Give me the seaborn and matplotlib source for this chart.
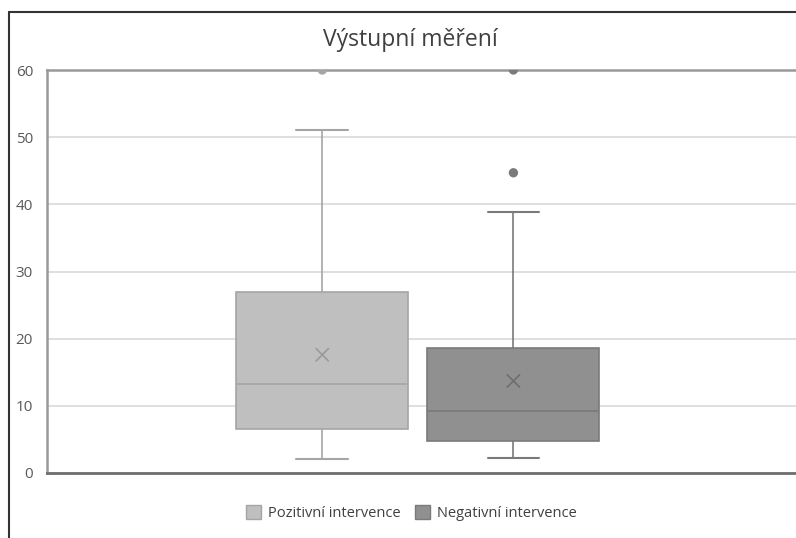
import numpy as np
import matplotlib
matplotlib.use("Agg")
import matplotlib.pyplot as plt
import matplotlib.patches as mpatches
import pandas as pd
import seaborn as sns

# summary values
skupiny = ["Pozitivní intervence", "Negativní intervence"]
q1 = [6.5, 4.8]
median = [13.2, 9.2]
q3 = [27.0, 18.6]
whisk_lo = [2.1, 2.2]
whisk_hi = [51.1, 38.8]
prumer = [17.6, 13.7]
odlehle = [[60.0], [44.7, 60.0]]

fill_c = ["#bfbfbf", "#909090"]
edge_c = ["#a5a5a5", "#7a7a7a"]

sns.set_theme(style="white")
plt.rcParams["font.family"] = ["Open Sans", "DejaVu Sans"]

fig = plt.figure(figsize=(7.96, 5.38), dpi=100)
ax = fig.add_axes([47/796, 65/538, 1 - 47/796 + 0.01, 403/538])

for i in range(len(skupiny)):
    st = [{"med": median[i], "q1": q1[i], "q3": q3[i],
           "whislo": whisk_lo[i], "whishi": whisk_hi[i],
           "fliers": [], "label": skupiny[i]}]
    ax.bxp(st, positions=[i], widths=0.9, capwidths=0.27, patch_artist=True,
           showfliers=False,
           boxprops=dict(facecolor=fill_c[i], edgecolor=edge_c[i], linewidth=1.2),
           medianprops=dict(color=edge_c[i], linewidth=1.2),
           whiskerprops=dict(color=edge_c[i], linewidth=1.2),
           capprops=dict(color=edge_c[i], linewidth=1.5),
           zorder=3)

mean_df = pd.DataFrame({"x": [0, 1], "y": prumer})
sns.scatterplot(data=mean_df, x="x", y="y", marker="x", s=90, linewidth=1.2,
                hue="x", palette=["#9a9a9a", "#6f6f6f"], legend=False, ax=ax, zorder=4)

out_x = [i for i in range(len(odlehle)) for _ in odlehle[i]]
out_y = [v for grp in odlehle for v in grp]
out_df = pd.DataFrame({"x": out_x, "y": out_y})
sns.scatterplot(data=out_df, x="x", y="y", hue="x", palette=["#a5a5a5", "#7a7a7a"],
                s=45, edgecolor="none", legend=False, ax=ax, zorder=2)

ax.set_xlim(-1.44, 2.52)
ax.set_ylim(0, 60)
ax.set_yticks(np.arange(0, 61, 10))
ax.set_xticks([])
ax.set_xlabel("")
ax.set_ylabel("")
ax.yaxis.grid(True, color="#d9d9d9", linewidth=1.2)
ax.set_axisbelow(True)
ax.tick_params(axis="y", labelsize=11, colors="#595959", length=0, pad=10)
for s in ["top", "left"]:
    ax.spines[s].set_color("#999999")
    ax.spines[s].set_linewidth(1.8)
    ax.spines[s].set_zorder(1)
ax.spines["bottom"].set_color("#6e6e6e")
ax.spines["bottom"].set_linewidth(2)
ax.spines["right"].set_visible(False)

fig.text(0.515, 0.926, "Výstupní měření", ha="center", va="center",
         fontsize=16.5, color="#404040")

handles = [mpatches.Patch(facecolor=fill_c[i], edgecolor=edge_c[i], label=skupiny[i])
           for i in range(len(skupiny))]
fig.legend(handles=handles, loc="center", bbox_to_anchor=(0.517, 0.046), ncol=2,
           frameon=False, fontsize=10.5, labelcolor="#404040",
           handlelength=1.0, handleheight=1.0, columnspacing=1.0, handletextpad=0.5)

# outer chart frame (cropped at right and bottom)
fig.add_artist(plt.Line2D([9/796, 9/796], [0, 1 - 12/538], color="#333333", linewidth=1.5))
fig.add_artist(plt.Line2D([9/796, 1], [1 - 12/538, 1 - 12/538], color="#333333", linewidth=1.5))

fig.savefig("out.png", dpi=100)
